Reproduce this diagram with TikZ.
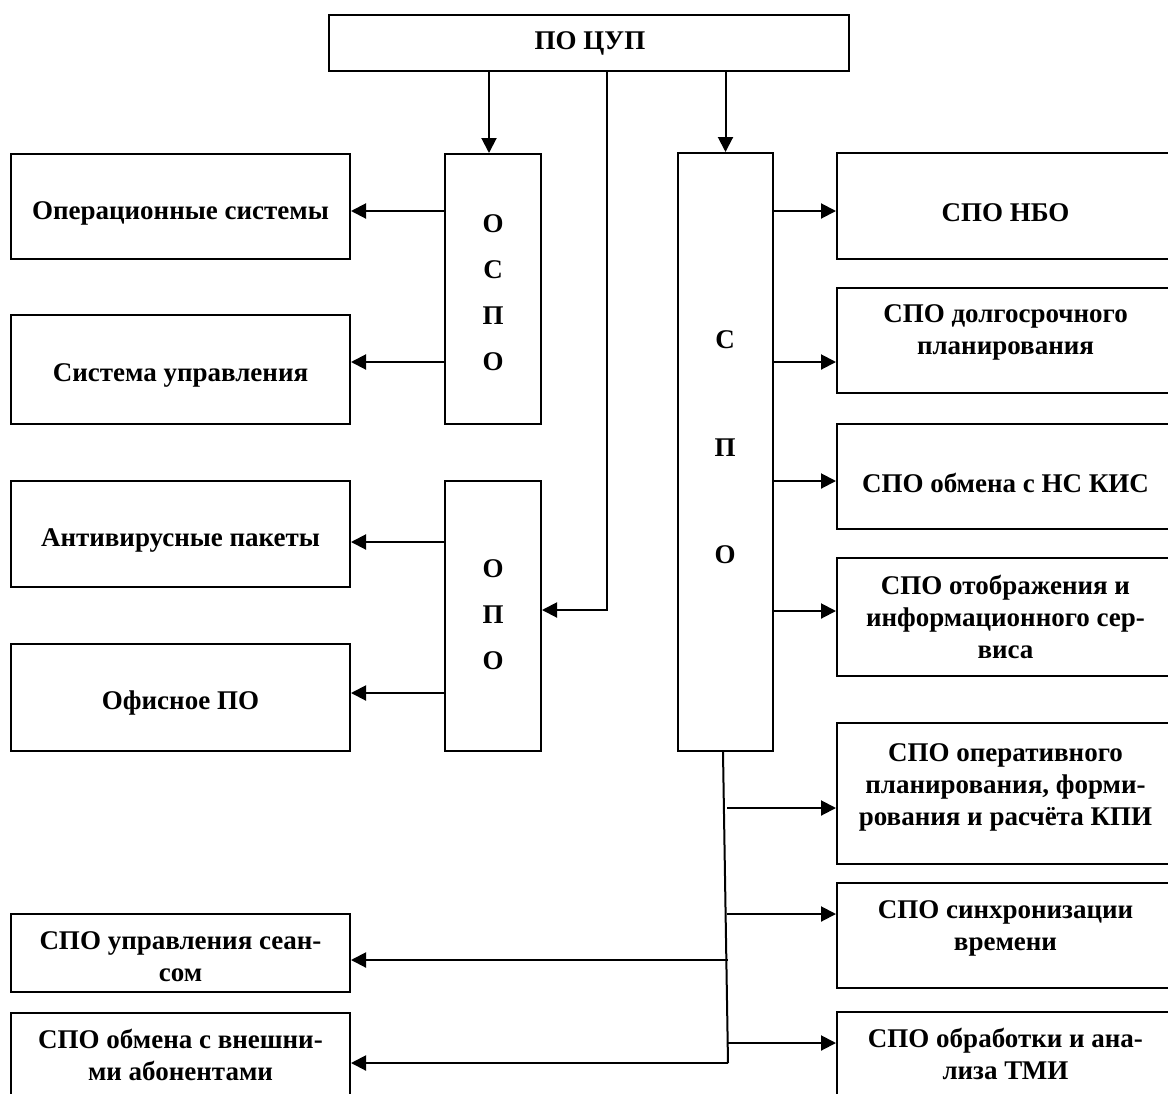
\documentclass[tikz,border=0pt]{standalone}
\usepackage{fontspec}
\setmainfont{Liberation Serif}
\usetikzlibrary{arrows.meta}
\begin{document}
\begin{tikzpicture}[x=1pt,y=-1pt,
  bx/.style={draw, line width=2pt, inner sep=0pt},
  txt/.style={align=center, inner sep=0pt, font=\fontsize{27}{32}\selectfont\bfseries},
  ltr/.style={align=center, inner sep=0pt, font=\fontsize{27}{46}\selectfont\bfseries},
  ltrw/.style={align=center, inner sep=0pt, font=\fontsize{27}{107.5}\selectfont\bfseries},
  arr/.style={line width=2pt, -{Triangle[length=15pt,width=15pt]}},
  ln/.style={line width=2pt}]
\fill[white] (0,0) rectangle (1168,1093);
\useasboundingbox (0,0) rectangle (1168,1093);

% top
\node[bx, minimum width=520pt, minimum height=56pt] (cup) at (589,43) {};
\node[txt] (tcup) at (590,43) {ПО ЦУП};

% middle columns
\node[bx, minimum width=96pt, minimum height=270pt] (ospo) at (493,289) {};
\node[ltr] (tospo) at (493,292.5) {О\\С\\П\\О};
\node[bx, minimum width=96pt, minimum height=270pt] (opo) at (493,616) {};
\node[ltr] (topo) at (493,615) {О\\П\\О};
\node[bx, minimum width=95pt, minimum height=598pt] (spo) at (725.5,452) {};
\node[ltrw] (tspo) at (725,447.5) {С\\П\\О};

% left boxes
\node[bx, minimum width=339pt, minimum height=105pt] (os) at (180.5,206.5) {};
\node[txt] (tos) at (180.5,213) {Операционные системы};
\node[bx, minimum width=339pt, minimum height=109pt] (su) at (180.5,369.5) {};
\node[txt] (tsu) at (180.5,375) {Система управления};
\node[bx, minimum width=339pt, minimum height=106pt] (av) at (180.5,534) {};
\node[txt] (tav) at (180.5,540) {Антивирусные пакеты};
\node[bx, minimum width=339pt, minimum height=107pt] (of) at (180.5,697.5) {};
\node[txt] (tof) at (180.5,703) {Офисное ПО};
\node[bx, minimum width=339pt, minimum height=78pt] (us) at (180.5,953) {};
\node[txt] (tus) at (180.5,957) {СПО управления сеан-\\сом};
\node[bx, minimum width=339pt, minimum height=90pt] (ab) at (180.5,1058) {};
\node[txt] (tab) at (180.5,1055) {СПО обмена с внешни-\\ми абонентами};

% right boxes (cut by the right edge)
\node[bx, minimum width=360pt, minimum height=106pt, anchor=west] (nbo) at (836,206) {};
\node[txt] (tnbo) at (1005.5,213) {СПО НБО};
\node[bx, minimum width=360pt, minimum height=105pt, anchor=west] (dp) at (836,340.5) {};
\node[txt] (tdp) at (1005.5,332) {СПО долгосрочного\\планирования};
\node[bx, minimum width=360pt, minimum height=105pt, anchor=west] (nk) at (836,476.5) {};
\node[txt] (tnk) at (1005.5,483) {СПО обмена с НС КИС};
\node[bx, minimum width=360pt, minimum height=118pt, anchor=west] (ot) at (836,617) {};
\node[txt] (tot) at (1005.5,617) {СПО отображения и\\информационного сер-\\виса};
\node[bx, minimum width=360pt, minimum height=141pt, anchor=west] (op) at (836,793.5) {};
\node[txt] (top) at (1005.5,787) {СПО оперативного\\планирования, форми-\\рования и расчёта КПИ};
\node[bx, minimum width=360pt, minimum height=105pt, anchor=west] (sv) at (836,935.5) {};
\node[txt] (tsv) at (1005.5,928) {СПО синхронизации\\времени};
\node[bx, minimum width=360pt, minimum height=90pt, anchor=west] (ob) at (836,1057) {};
\node[txt] (tob) at (1005.5,1054) {СПО обработки и ана-\\лиза ТМИ};

% connectors from top
\draw[arr] (cup.south -| 489,0) -- (ospo.north -| 489,0);
\draw[arr] (cup.south -| spo.north) -- (spo.north);
\coordinate (bend) at (607,610);
\draw[arr] (cup.south -| bend) -- (bend) -- (opo.east |- bend);

% OSPO / OPO to left
\draw[arr] (ospo.west |- 0,211) -- (os.east |- 0,211);
\draw[arr] (ospo.west |- 0,362) -- (su.east |- 0,362);
\draw[arr] (opo.west |- 0,542) -- (av.east |- 0,542);
\draw[arr] (opo.west |- 0,693) -- (of.east |- 0,693);

% SPO to right
\draw[arr] (spo.east |- 0,211) -- (nbo.west |- 0,211);
\draw[arr] (spo.east |- 0,362) -- (dp.west |- 0,362);
\draw[arr] (spo.east |- 0,481) -- (nk.west |- 0,481);
\draw[arr] (spo.east |- 0,611) -- (ot.west |- 0,611);

% trunk below SPO
\coordinate (tb) at (728,1063);
\draw[ln] (spo.south -| 723,0) -- (tb);
\coordinate (r1) at (727,808);
\coordinate (r2) at (727,914);
\coordinate (r3) at (728,1043);
\coordinate (l1) at (728,960);
\draw[arr] (r1) -- (op.west |- r1);
\draw[arr] (r2) -- (sv.west |- r2);
\draw[arr] (r3) -- (ob.west |- r3);
\draw[arr] (l1) -- (us.east |- l1);
\draw[arr] (tb) -- (ab.east |- tb);
\end{tikzpicture}
\end{document}
